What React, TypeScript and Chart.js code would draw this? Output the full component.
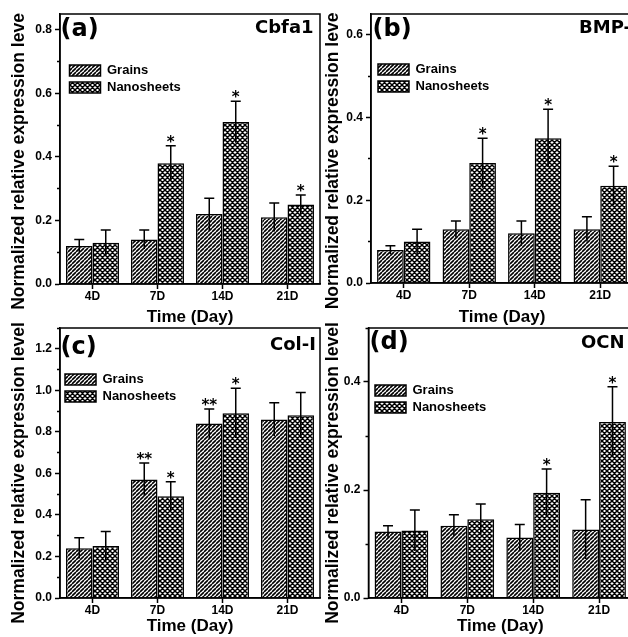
import React, { useEffect, useRef } from 'react';
import { Chart, registerables } from 'chart.js';

Chart.register(...registerables);

const FONT = "'Liberation Sans', Arial, Helvetica, sans-serif";
const LABEL_FONT = "'DejaVu Sans', 'Liberation Sans', sans-serif";

// ---------------- data ----------------
const categories = ['4D', '7D', '14D', '21D'];
const seriesNames = ['Grains', 'Nanosheets'];
const yTitleText = 'Normalized relative expression level';
const xTitleText = 'Time (Day)';

// (a) Cbfa1
const cbfa1Grains = [0.12, 0.14, 0.22, 0.21];
const cbfa1GrainsErr = [0.02, 0.03, 0.05, 0.045];
const cbfa1Nano = [0.13, 0.38, 0.51, 0.25];
const cbfa1NanoErr = [0.04, 0.055, 0.065, 0.03];
const cbfa1GrainsStars = ['', '', '', ''];
const cbfa1NanoStars = ['', '*', '*', '*'];

// (b) BMP-2
const bmp2Grains = [0.08, 0.13, 0.12, 0.13];
const bmp2GrainsErr = [0.01, 0.02, 0.03, 0.03];
const bmp2Nano = [0.1, 0.29, 0.35, 0.235];
const bmp2NanoErr = [0.03, 0.06, 0.07, 0.047];
const bmp2GrainsStars = ['', '', '', ''];
const bmp2NanoStars = ['', '*', '*', '*'];

// (c) Col-I
const col1Grains = [0.24, 0.57, 0.84, 0.86];
const col1GrainsErr = [0.05, 0.08, 0.07, 0.08];
const col1Nano = [0.25, 0.49, 0.89, 0.88];
const col1NanoErr = [0.07, 0.07, 0.12, 0.11];
const col1GrainsStars = ['', '**', '**', ''];
const col1NanoStars = ['', '*', '*', ''];

// (d) OCN
const ocnGrains = [0.123, 0.134, 0.112, 0.127];
const ocnGrainsErr = [0.011, 0.02, 0.024, 0.055];
const ocnNano = [0.125, 0.146, 0.195, 0.326];
const ocnNanoErr = [0.038, 0.028, 0.044, 0.065];
const ocnGrainsStars = ['', '', '', ''];
const ocnNanoStars = ['', '', '*', '*'];

const panelLabels = ['(a)', '(b)', '(c)', '(d)'];
const geneNames = ['Cbfa1', 'BMP-2', 'Col-I', 'OCN'];
const yMaxes = [0.85, 0.65, 1.3, 0.5];

// ---------------- layout (not data) ----------------
type Rect = { x: number; y: number; w: number; h: number };
type Spec = {
  idx: number;
  grains: number[]; grainsErr: number[]; nano: number[]; nanoErr: number[];
  grainsStars: string[]; nanoStars: string[];
  canvas: Rect; clip: Rect;
  yWidth: number; padTop: number; padRight: number; xHeight: number;
  yTitleX: number; labelPos: [number, number]; genePos: [number, number];
  legendOff: [number, number];
};

const specs: Spec[] = [
  {
    idx: 0, grains: cbfa1Grains, grainsErr: cbfa1GrainsErr, nano: cbfa1Nano, nanoErr: cbfa1NanoErr,
    grainsStars: cbfa1GrainsStars, nanoStars: cbfa1NanoStars,
    canvas: { x: 0, y: 0, w: 330, h: 328 }, clip: { x: 0, y: 12, w: 322, h: 316 },
    yWidth: 60, padTop: 14, padRight: 10, xHeight: 44, yTitleX: 19.5,
    labelPos: [0.5, 22], genePos: [195, 19], legendOff: [5.5, 46],
  },
  {
    idx: 1, grains: bmp2Grains, grainsErr: bmp2GrainsErr, nano: bmp2Nano, nanoErr: bmp2NanoErr,
    grainsStars: bmp2GrainsStars, nanoStars: bmp2NanoStars,
    canvas: { x: 322, y: 0, w: 318, h: 328 }, clip: { x: 322, y: 12, w: 306, h: 316 },
    yWidth: 49, padTop: 14, padRight: 7, xHeight: 45, yTitleX: 11.5,
    labelPos: [1.5, 22], genePos: [208, 19], legendOff: [3, 45],
  },
  {
    idx: 2, grains: col1Grains, grainsErr: col1GrainsErr, nano: col1Nano, nanoErr: col1NanoErr,
    grainsStars: col1GrainsStars, nanoStars: col1NanoStars,
    canvas: { x: 0, y: 316, w: 330, h: 321 }, clip: { x: 0, y: 316, w: 322, h: 321 },
    yWidth: 60, padTop: 12, padRight: 10, xHeight: 39, yTitleX: 19.5,
    labelPos: [0.5, 26], genePos: [210, 21.5], legendOff: [1, 41],
  },
  {
    idx: 3, grains: ocnGrains, grainsErr: ocnGrainsErr, nano: ocnNano, nanoErr: ocnNanoErr,
    grainsStars: ocnGrainsStars, nanoStars: ocnNanoStars,
    canvas: { x: 322, y: 316, w: 318, h: 321 }, clip: { x: 322, y: 316, w: 306, h: 321 },
    yWidth: 46.5, padTop: 12, padRight: 8, xHeight: 39, yTitleX: 11,
    labelPos: [1, 21], genePos: [212.5, 20], legendOff: [2.5, 52],
  },
];

// ---------------- patterns ----------------
function makeHatch(): CanvasPattern | string {
  const s = 4;
  const c = document.createElement('canvas');
  c.width = s; c.height = s;
  const g = c.getContext('2d');
  if (!g) return '#fff';
  g.fillStyle = '#fff';
  g.fillRect(0, 0, s, s);
  g.strokeStyle = '#000';
  g.lineWidth = 1.6;
  g.beginPath();
  for (let k = -1; k <= 1; k++) {
    g.moveTo(k * s, s);
    g.lineTo(k * s + s, 0);
  }
  g.stroke();
  return g.createPattern(c, 'repeat') || '#fff';
}

function makeCross(): CanvasPattern | string {
  const s = 5;
  const c = document.createElement('canvas');
  c.width = s; c.height = s;
  const g = c.getContext('2d');
  if (!g) return '#000';
  g.fillStyle = '#fff';
  g.fillRect(0, 0, s, s);
  g.strokeStyle = '#000';
  g.lineWidth = 1.45;
  g.beginPath();
  for (let k = -1; k <= 1; k++) {
    g.moveTo(k * s, 0);
    g.lineTo(k * s + s, s);
    g.moveTo(k * s, s);
    g.lineTo(k * s + s, 0);
  }
  g.stroke();
  return g.createPattern(c, 'repeat') || '#000';
}

const isMinor = (v: number) => Math.round(v * 10) % 2 !== 0;

const decorPlugin = {
  id: 'decor',
  beforeDraw(chart: any, _args: any, opts: any) {
    const lg = chart.legend;
    const ca = chart.chartArea;
    if (lg && opts.legendOff) {
      lg.left = ca.left + opts.legendOff[0];
      lg.top = ca.top + opts.legendOff[1];
    }
  },
  afterDatasetsDraw(chart: any, _args: any, opts: any) {
    const ctx = chart.ctx;
    const y = chart.scales.y;
    const ca = chart.chartArea;
    ctx.save();
    ctx.strokeStyle = '#000';
    ctx.fillStyle = '#000';
    chart.data.datasets.forEach((ds: any, i: number) => {
      const meta = chart.getDatasetMeta(i);
      const errs: number[] = opts.errors[i];
      const stars: string[] = opts.stars[i];
      meta.data.forEach((bar: any, j: number) => {
        const v = ds.data[j];
        const e = errs[j];
        const x = bar.x;
        const yTop = y.getPixelForValue(v + e);
        const yBot = y.getPixelForValue(v - e);
        ctx.lineWidth = 1.5;
        ctx.beginPath();
        ctx.moveTo(x, yBot);
        ctx.lineTo(x, yTop);
        ctx.moveTo(x - 5, yTop);
        ctx.lineTo(x + 5, yTop);
        ctx.stroke();
        if (stars[j]) {
          ctx.font = `bold 15px ${LABEL_FONT}`;
          ctx.textAlign = 'center';
          ctx.textBaseline = 'alphabetic';
          ctx.fillText(stars[j], x, yTop + 1);
        }
      });
    });
    ctx.lineWidth = 1.5;
    ctx.strokeRect(ca.left, ca.top, ca.right - ca.left, ca.bottom - ca.top);
    ctx.restore();
  },
  afterDraw(chart: any, _args: any, opts: any) {
    const ctx = chart.ctx;
    const ca = chart.chartArea;
    ctx.save();
    ctx.fillStyle = '#000';
    ctx.textBaseline = 'alphabetic';
    ctx.textAlign = 'left';
    ctx.font = `bold 24px ${LABEL_FONT}`;
    ctx.fillText(opts.label, ca.left + opts.labelPos[0], ca.top + opts.labelPos[1]);
    ctx.font = `bold 18px ${LABEL_FONT}`;
    ctx.fillText(opts.gene, ca.left + opts.genePos[0], ca.top + opts.genePos[1]);
    // y axis title
    ctx.translate(opts.yTitleX, (ca.top + ca.bottom) / 2 + 10);
    ctx.rotate(-Math.PI / 2);
    ctx.font = `bold 17.5px ${FONT}`;
    ctx.textAlign = 'center';
    ctx.textBaseline = 'middle';
    ctx.fillText(opts.yTitle, 0, 0);
    ctx.restore();
  },
};

function Panel({ spec }: { spec: Spec }) {
  const ref = useRef<HTMLCanvasElement>(null);
  useEffect(() => {
    if (!ref.current) return;
    const hatch = makeHatch();
    const cross = makeCross();
    const chart = new Chart(ref.current, {
      type: 'bar',
      data: {
        labels: categories,
        datasets: [
          {
            label: seriesNames[0], data: spec.grains, backgroundColor: hatch as any,
            borderColor: '#000', borderWidth: 1.5, categoryPercentage: 0.815, barPercentage: 1,
          },
          {
            label: seriesNames[1], data: spec.nano, backgroundColor: cross as any,
            borderColor: '#000', borderWidth: 1.5, categoryPercentage: 0.815, barPercentage: 1,
          },
        ],
      },
      options: {
        responsive: false,
        animation: false,
        devicePixelRatio: 1,
        layout: { padding: { left: 0, top: spec.padTop, right: spec.padRight, bottom: 0 } },
        plugins: {
          tooltip: { enabled: false },
          legend: {
            position: 'chartArea',
            align: 'start',
            labels: {
              boxWidth: 31, boxHeight: 11, padding: 4, color: '#000',
              font: { family: FONT, size: 13, weight: 'bold' },
            },
          },
          decor: {
            errors: [spec.grainsErr, spec.nanoErr],
            stars: [spec.grainsStars, spec.nanoStars],
            label: panelLabels[spec.idx],
            gene: geneNames[spec.idx],
            yTitle: yTitleText,
            yTitleX: spec.yTitleX,
            labelPos: spec.labelPos,
            genePos: spec.genePos,
            legendOff: spec.legendOff,
          },
        } as any,
        scales: {
          x: {
            type: 'category',
            offset: true,
            grid: {
              display: true, drawOnChartArea: false, drawTicks: true, tickLength: 5,
              tickColor: '#000', tickWidth: 1.5, offset: false,
            },
            border: { display: true, color: '#000', width: 1.5 },
            ticks: {
              color: '#000', font: { family: FONT, size: 12, weight: 'bold' },
              padding: 0, maxRotation: 0, autoSkip: false,
            },
            title: {
              display: true, text: xTitleText, color: '#000',
              font: { family: FONT, size: 17, weight: 'bold' }, padding: 0,
            },
            afterFit: (s: any) => { s.height = spec.xHeight; },
          },
          y: {
            type: 'linear',
            min: 0,
            max: yMaxes[spec.idx],
            grid: {
              display: true, drawOnChartArea: false, drawTicks: true, tickLength: 5,
              tickColor: '#000', tickWidth: 1.5,
              tickBorderDash: (c: any) => (c.tick && isMinor(c.tick.value) ? [3, 2] : []),
              tickBorderDashOffset: (c: any) => (c.tick && isMinor(c.tick.value) ? 3 : 0),
            },
            border: { display: true, color: '#000', width: 1.5 },
            ticks: {
              stepSize: 0.1, includeBounds: false, autoSkip: false, color: '#000',
              font: { family: FONT, size: 12, weight: 'bold' }, padding: 3,
              callback: (v: any) => (isMinor(Number(v)) ? '' : Number(v).toFixed(1)),
            },
            afterFit: (s: any) => { s.width = spec.yWidth; },
          },
        } as any,
      },
      plugins: [decorPlugin as any],
    });
    return () => chart.destroy();
  }, [spec]);

  const { canvas, clip } = spec;
  return (
    <div
      style={{
        position: 'absolute', left: clip.x, top: clip.y, width: clip.w, height: clip.h, overflow: 'hidden',
      }}
    >
      <canvas
        ref={ref}
        width={canvas.w}
        height={canvas.h}
        style={{
          position: 'absolute', left: canvas.x - clip.x, top: canvas.y - clip.y,
          width: canvas.w, height: canvas.h,
        }}
      />
    </div>
  );
}

export default function App() {
  return (
    <div
      style={{
        position: 'absolute', left: 0, top: 0, width: 628, height: 637, overflow: 'hidden', background: '#fff',
      }}
    >
      {specs.map((s) => (
        <Panel key={s.idx} spec={s} />
      ))}
    </div>
  );
}
